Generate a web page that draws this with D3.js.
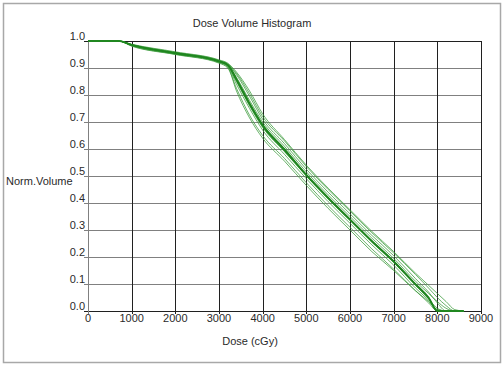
<!DOCTYPE html>
<html><head><meta charset="utf-8">
<script src="https://cdn.jsdelivr.net/npm/d3@7"></script>
<style>html,body{margin:0;padding:0;background:#fff;}svg{display:block;}text{font-family:"Liberation Sans",Arial,sans-serif;font-size:11px;fill:#2a2a2a;}</style>
</head><body>
<script>
const doses = [0,700,1000,2000,3000,3200,3400,3700,4000,4500,5000,5500,6000,6500,7000,7500,7800,8000,8200,8400,8600];
const s1  = [1,1,0.985,0.955,0.925,0.912,0.86,0.77,0.69,0.60,0.505,0.42,0.34,0.26,0.185,0.10,0.05,0,0,0,0];
const s2  = [1,1,0.983,0.952,0.922,0.905,0.84,0.75,0.67,0.58,0.49,0.405,0.325,0.245,0.17,0.085,0.04,0.005,0,0,0];
const s3  = [1,1,0.987,0.958,0.928,0.915,0.875,0.795,0.71,0.62,0.525,0.44,0.36,0.28,0.205,0.12,0.07,0.03,0,0,0];
const s4  = [1,1,0.981,0.950,0.918,0.900,0.825,0.725,0.65,0.565,0.475,0.39,0.31,0.23,0.155,0.075,0.03,0,0,0,0];
const s5  = [1,1,0.986,0.957,0.926,0.914,0.88,0.805,0.72,0.63,0.535,0.45,0.37,0.29,0.215,0.135,0.085,0.05,0.02,0,0];
const s6  = [1,1,0.984,0.954,0.923,0.908,0.85,0.76,0.68,0.59,0.50,0.415,0.335,0.255,0.18,0.095,0.045,0.01,0,0,0];
const s7  = [1,1,0.985,0.956,0.927,0.913,0.865,0.78,0.70,0.61,0.515,0.43,0.35,0.27,0.195,0.11,0.065,0.035,0.01,0,0];
const s8  = [1,1,0.982,0.951,0.920,0.903,0.815,0.715,0.64,0.555,0.465,0.38,0.30,0.22,0.15,0.075,0.035,0.005,0,0,0];
const s9  = [1,1,0.988,0.960,0.930,0.918,0.885,0.815,0.73,0.635,0.54,0.455,0.375,0.295,0.22,0.14,0.095,0.065,0.035,0.005,0];
const s10 = [1,1,0.985,0.955,0.924,0.911,0.855,0.765,0.685,0.595,0.503,0.418,0.338,0.258,0.183,0.098,0.048,0,0,0,0];
const thinSeries = [s2,s3,s4,s5,s6,s7,s8,s9];
const mainSeries = [s1,s10];
const xTicks = [0,1000,2000,3000,4000,5000,6000,7000,8000,9000];
const yTicks = [0,0.1,0.2,0.3,0.4,0.5,0.6,0.7,0.8,0.9,1.0];

const W=504,H=369;
const svg=d3.select("body").append("svg").attr("width",W).attr("height",H);
svg.append("rect").attr("x",3.5).attr("y",3.5).attr("width",497).attr("height",359)
  .attr("fill","#fff").attr("stroke","#a8a8a8").attr("stroke-width",1.5);

const x=d3.scaleLinear().domain([0,9000]).range([88,481]);
const y=d3.scaleLinear().domain([0,1]).range([311,41]);

svg.append("g").selectAll("line").data(yTicks).join("line")
  .attr("x1",x(0)-4).attr("x2",x(9000))
  .attr("y1",d=>Math.round(y(d))+0.5).attr("y2",d=>Math.round(y(d))+0.5)
  .attr("stroke",d=>(d===0||d===1)?"#202020":"#808080").attr("stroke-width",1);
svg.append("g").selectAll("line").data(xTicks).join("line")
  .attr("x1",d=>Math.round(x(d))+0.5).attr("x2",d=>Math.round(x(d))+0.5)
  .attr("y1",y(1)).attr("y2",y(0)+3)
  .attr("stroke",d=>d===0?"#808080":"#202020").attr("stroke-width",1);

svg.append("g").selectAll("text").data(yTicks).join("text")
  .attr("x",x(0)-3).attr("y",d=>Math.round(y(d))-1)
  .attr("text-anchor","end").text(d=>d3.format(".1f")(d));
svg.append("g").selectAll("text").data(xTicks).join("text")
  .attr("x",d=>x(d)).attr("y",322)
  .attr("text-anchor","middle").text(d=>d);

svg.append("text").attr("x",252).attr("y",27).attr("text-anchor","middle").text("Dose Volume Histogram");
svg.append("text").attr("x",250).attr("y",345).attr("text-anchor","middle").text("Dose (cGy)");
svg.append("text").attr("x",6).attr("y",185).attr("text-anchor","start").text("Norm.Volume");

const line=d3.line().x((d,i)=>x(doses[i])).y(d=>y(d)).curve(d3.curveMonotoneX);
svg.append("g").selectAll("path").data(thinSeries).join("path")
  .attr("d",line).attr("fill","none").attr("stroke","#3a9a3a").attr("stroke-width",0.9).attr("stroke-opacity",0.85);
svg.append("g").selectAll("path").data(mainSeries).join("path")
  .attr("d",line).attr("fill","none").attr("stroke","#1f861f").attr("stroke-width",1.6);
</script>
</body></html>
